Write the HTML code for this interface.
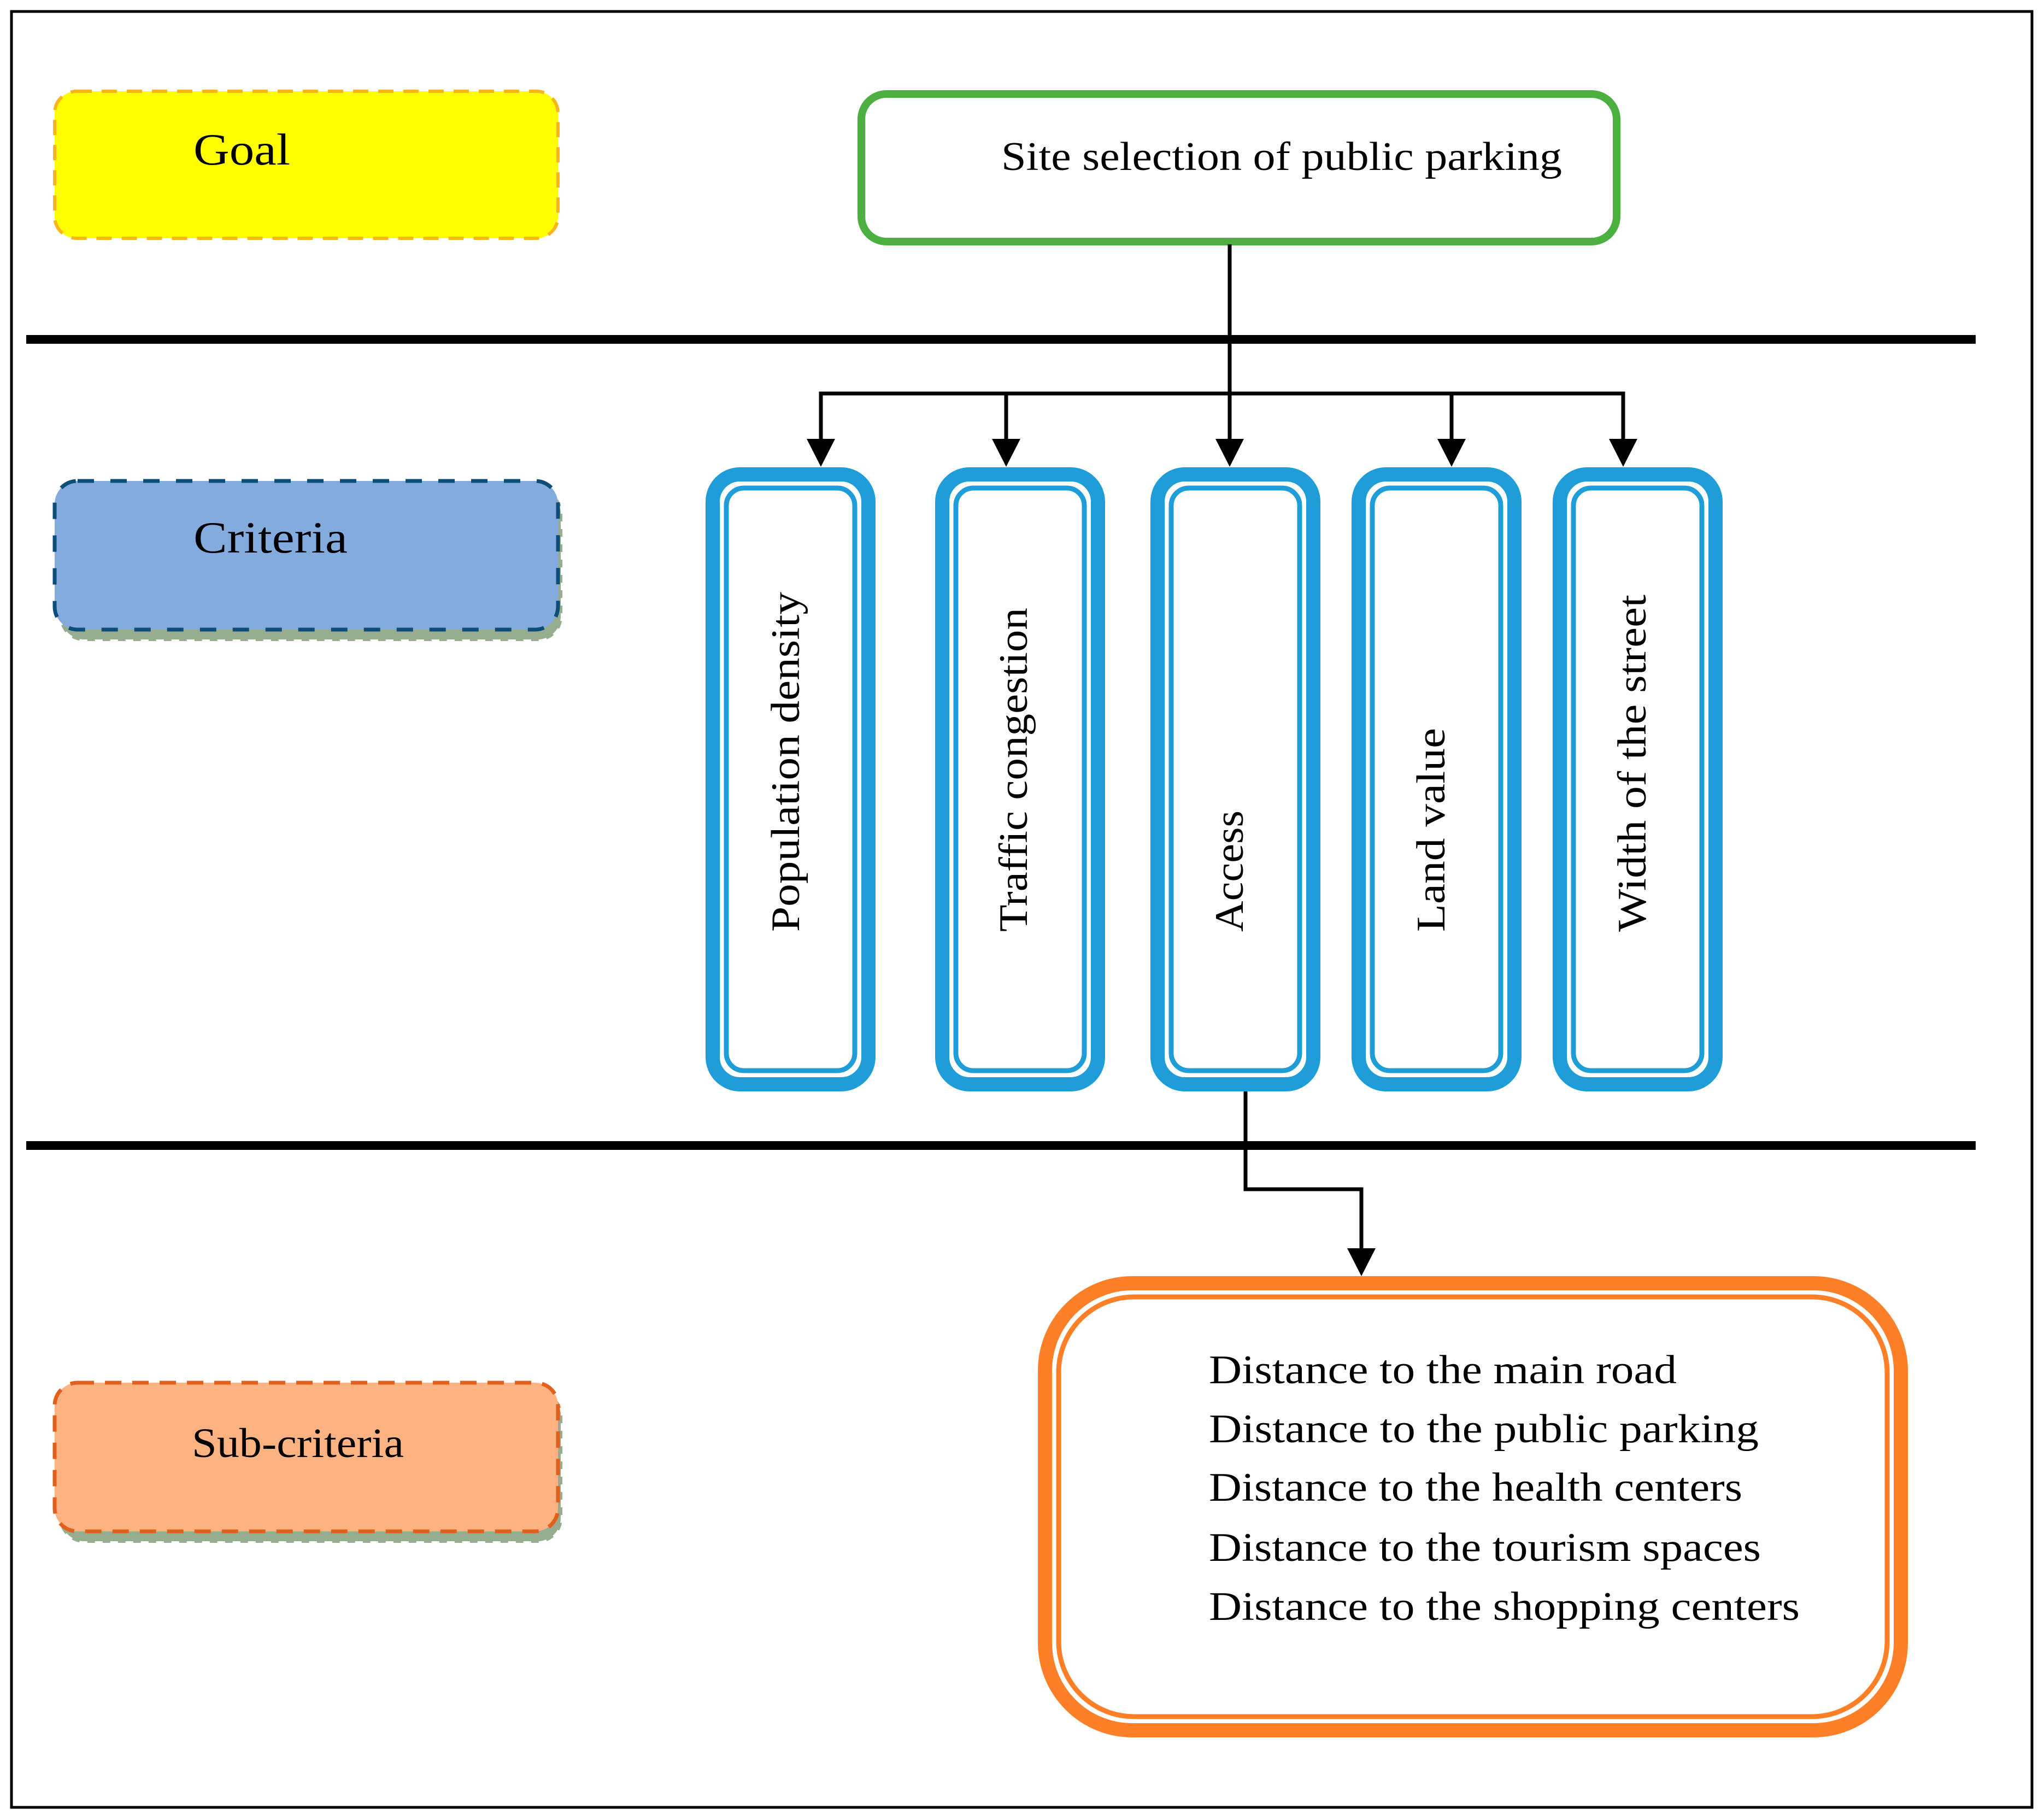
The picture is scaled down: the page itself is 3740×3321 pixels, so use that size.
<!DOCTYPE html>
<html><head><meta charset="utf-8"><style>
html,body{margin:0;padding:0;background:#fff;}
svg{display:block;}
text{font-family:"Liberation Serif",serif;fill:#000;}
</style></head><body>
<svg width="3740" height="3321" viewBox="0 0 3740 3321" xmlns="http://www.w3.org/2000/svg">
<rect x="21" y="21" width="3697" height="3286" fill="#fff" stroke="#000" stroke-width="5"/>
<!-- separators -->
<rect x="48" y="613" width="3567" height="16" fill="#000"/>
<rect x="48" y="2088" width="3567" height="16" fill="#000"/>

<!-- Goal legend -->
<rect x="100" y="167" width="921" height="269" rx="40" fill="#ffff00" stroke="#f9b51c" stroke-width="6" stroke-dasharray="28,18"/>
<text x="354" y="301" font-size="82" textLength="177" lengthAdjust="spacingAndGlyphs">Goal</text>

<!-- Criteria legend -->
<rect x="112" y="898" width="914" height="272" rx="42" fill="#97ad8f" stroke="#97ad8f" stroke-width="6" stroke-dasharray="14,14"/>
<rect x="100" y="880" width="921" height="272" rx="42" fill="#83abdd" stroke="#0d4d7c" stroke-width="7" stroke-dasharray="30,30"/>
<text x="354" y="1011" font-size="82" textLength="282" lengthAdjust="spacingAndGlyphs">Criteria</text>

<!-- Sub-criteria legend -->
<rect x="112" y="2548" width="914" height="272" rx="42" fill="#97ad8f" stroke="#97ad8f" stroke-width="6" stroke-dasharray="14,14"/>
<rect x="100" y="2530" width="921" height="272" rx="42" fill="#fdb282" stroke="#e2601c" stroke-width="7" stroke-dasharray="30,20"/>
<text x="351" y="2666" font-size="76" textLength="388" lengthAdjust="spacingAndGlyphs">Sub-criteria</text>

<!-- Goal box -->
<rect x="1576" y="172" width="1382" height="270" rx="46" fill="#fff" stroke="#4cb040" stroke-width="14"/>
<text x="1832" y="311" font-size="74" textLength="1026" lengthAdjust="spacingAndGlyphs">Site selection of public parking</text>

<!-- connectors top -->
<g stroke="#000" stroke-width="7" fill="none">
<line x1="2250" y1="447" x2="2250" y2="810"/>
<polyline points="1502,812 1502,720 2970,720 2970,812"/>
<line x1="1841" y1="720" x2="1841" y2="812"/>
<line x1="2656" y1="720" x2="2656" y2="812"/>
</g>
<g fill="#000">
<polygon points="1476,803 1528,803 1502,854"/>
<polygon points="1815,803 1867,803 1841,854"/>
<polygon points="2224,803 2276,803 2250,854"/>
<polygon points="2630,803 2682,803 2656,854"/>
<polygon points="2944,803 2996,803 2970,854"/>
</g>

<!-- Criteria boxes -->
<g fill="#fff" stroke="#1f9dd9">
<rect x="1304" y="868" width="285" height="1116" rx="50" stroke-width="26"/>
<rect x="1329" y="893" width="235" height="1066" rx="32" stroke-width="9" fill="none"/>
<rect x="1724" y="868" width="285" height="1116" rx="50" stroke-width="26"/>
<rect x="1749" y="893" width="235" height="1066" rx="32" stroke-width="9" fill="none"/>
<rect x="2118" y="868" width="285" height="1116" rx="50" stroke-width="26"/>
<rect x="2143" y="893" width="235" height="1066" rx="32" stroke-width="9" fill="none"/>
<rect x="2486" y="868" width="285" height="1116" rx="50" stroke-width="26"/>
<rect x="2511" y="893" width="235" height="1066" rx="32" stroke-width="9" fill="none"/>
<rect x="2854" y="868" width="285" height="1116" rx="50" stroke-width="26"/>
<rect x="2879" y="893" width="235" height="1066" rx="32" stroke-width="9" fill="none"/>
</g>
<text transform="translate(1462,1705) rotate(-90)" font-size="74" textLength="622" lengthAdjust="spacingAndGlyphs">Population density</text>
<text transform="translate(1879,1705) rotate(-90)" font-size="74" textLength="593" lengthAdjust="spacingAndGlyphs">Traffic congestion</text>
<text transform="translate(2274,1705) rotate(-90)" font-size="74" textLength="222" lengthAdjust="spacingAndGlyphs">Access</text>
<text transform="translate(2643,1705) rotate(-90)" font-size="74" textLength="373" lengthAdjust="spacingAndGlyphs">Land value</text>
<text transform="translate(3011,1705) rotate(-90)" font-size="74" textLength="617" lengthAdjust="spacingAndGlyphs">Width of the street</text>

<!-- Access connector -->
<polyline points="2279,1997 2279,2176 2491,2176 2491,2292" stroke="#000" stroke-width="7" fill="none"/>
<polygon points="2465,2284 2517,2284 2491,2335" fill="#000"/>

<!-- Orange box -->
<rect x="1912" y="2348" width="1566" height="818" rx="160" fill="#fff" stroke="#fd7f28" stroke-width="26"/>
<rect x="1937" y="2373" width="1516" height="768" rx="138" fill="none" stroke="#fd7f28" stroke-width="9"/>
<g font-size="74">
<text x="2212" y="2531" textLength="856" lengthAdjust="spacingAndGlyphs">Distance to the main road</text>
<text x="2212" y="2639" textLength="1006" lengthAdjust="spacingAndGlyphs">Distance to the public parking</text>
<text x="2212" y="2746" textLength="976" lengthAdjust="spacingAndGlyphs">Distance to the health centers</text>
<text x="2212" y="2856" textLength="1010" lengthAdjust="spacingAndGlyphs">Distance to the tourism spaces</text>
<text x="2212" y="2964" textLength="1081" lengthAdjust="spacingAndGlyphs">Distance to the shopping centers</text>
</g>
</svg>
</body></html>
